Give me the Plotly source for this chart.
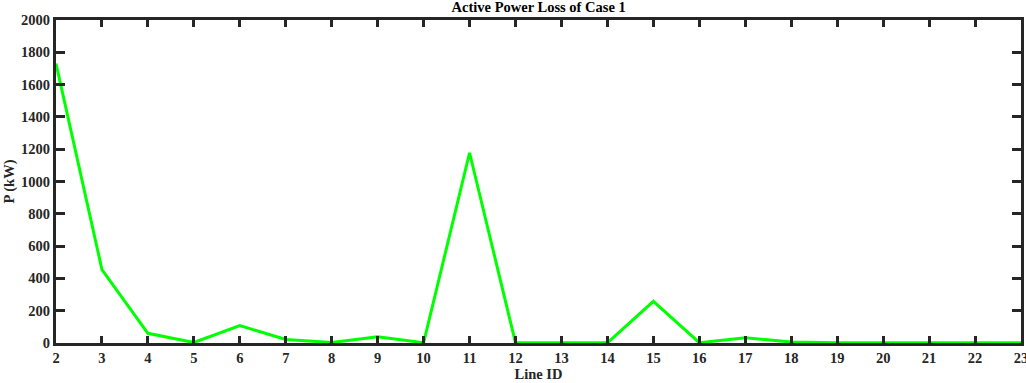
import plotly.graph_objects as go

line_ids = [2, 3, 4, 5, 6, 7, 8, 9, 10, 11, 12, 13, 14, 15, 16, 17, 18, 19, 20, 21, 22, 23]
loss_kw = [1730, 455, 60, 3, 108, 22, 3, 38, 2, 1178, 1, 1, 1, 258, 2, 32, 6, 2, 1, 1, 1, 1]

y_ticks = list(range(0, 2001, 200))

font = dict(family="Liberation Serif, Times New Roman, serif", size=14.5, color="#262626")
axis_color = "#262626"

fig = go.Figure()
fig.add_trace(go.Scatter(
    x=line_ids, y=loss_kw, mode="lines",
    line=dict(color="#00ff00", width=3),
    cliponaxis=False,
))

fig.update_layout(
    width=1026, height=383,
    margin=dict(l=56, r=5, t=20, b=40),
    paper_bgcolor="white", plot_bgcolor="white",
    showlegend=False,
    font=font,
    title=dict(text="<b>Active Power Loss of Case 1</b>", x=0.525, xanchor="center",
               y=0.995, yanchor="top", font=dict(size=14.5, color="#000")),
)
fig.update_xaxes(
    range=[2, 23], tickvals=line_ids, ticktext=[f"<b>{v}</b>" for v in line_ids],
    automargin=False, ticklabeloverflow="allow",
    showgrid=False, zeroline=False,
    showline=True, linecolor=axis_color, linewidth=3, mirror="ticks",
    ticks="inside", ticklen=7, tickwidth=3, tickcolor=axis_color,
    title=dict(text="<b>Line ID</b>", standoff=2, font=dict(size=14.5)),
)
fig.update_yaxes(
    range=[0, 2000], tickvals=y_ticks, ticktext=[f"<b>{v}</b>" for v in y_ticks],
    automargin=False, ticklabeloverflow="allow",
    showgrid=False, zeroline=False,
    showline=True, linecolor=axis_color, linewidth=3, mirror="ticks",
    ticks="inside", ticklen=9, tickwidth=3, tickcolor=axis_color,
    title=dict(text="<b>P (kW)</b>", standoff=4, font=dict(size=14.5)),
)

fig.write_html("out.html")
